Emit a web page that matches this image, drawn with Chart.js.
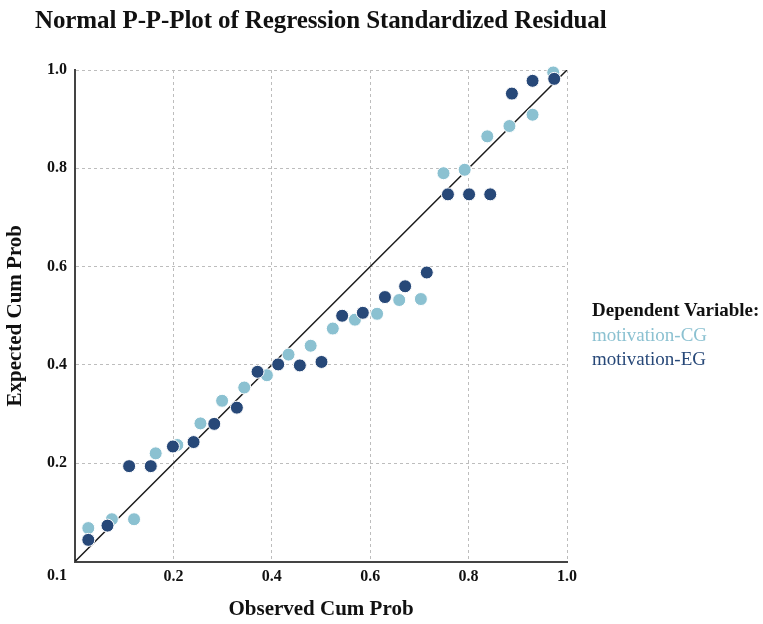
<!DOCTYPE html>
<html>
<head>
<meta charset="utf-8">
<script src="https://cdn.jsdelivr.net/npm/chart.js@4.4.1/dist/chart.umd.min.js"></script>
<style>
  html, body { margin: 0; padding: 0; background: #fff; }
  #wrap { position: relative; width: 763px; height: 624px; }
  #chartTitle {
    position: absolute; left: 35px; top: 6px; margin: 0;
    font: bold 25px "Liberation Serif", serif; color: #111; white-space: nowrap;
    letter-spacing: -0.1px;
  }
  #legend {
    position: absolute; left: 592px; top: 298px;
    font: 19px/24.5px "Liberation Serif", serif; white-space: nowrap;
  }
  #legend .head { font-weight: bold; color: #111; }
</style>
</head>
<body>
<div id="wrap">
  <canvas id="chart" width="763" height="624"></canvas>
  <h1 id="chartTitle">Normal P-P-Plot of Regression Standardized Residual</h1>
  <div id="legend"></div>
</div>
<script>
// observed vs expected cumulative probabilities
const cgObserved = [0.027, 0.075, 0.120, 0.164, 0.208, 0.255, 0.299, 0.344, 0.390, 0.434, 0.479,
  0.524, 0.569, 0.614, 0.659, 0.703, 0.749, 0.792, 0.838, 0.883, 0.930, 0.972];
const cgExpected = [0.068, 0.086, 0.086, 0.220, 0.237, 0.281, 0.327, 0.354, 0.379, 0.421, 0.439,
  0.474, 0.492, 0.504, 0.532, 0.534, 0.790, 0.797, 0.865, 0.886, 0.909, 0.995];
const egObserved = [0.027, 0.066, 0.110, 0.154, 0.199, 0.241, 0.283, 0.329, 0.371, 0.413, 0.457,
  0.501, 0.543, 0.585, 0.630, 0.671, 0.715, 0.758, 0.801, 0.844, 0.888, 0.930, 0.974];
const egExpected = [0.044, 0.073, 0.194, 0.194, 0.234, 0.243, 0.280, 0.313, 0.386, 0.401, 0.399,
  0.406, 0.500, 0.506, 0.538, 0.560, 0.588, 0.747, 0.747, 0.747, 0.952, 0.978, 0.982];
const diagonal = [0, 1];
const tickValues = [0, 0.2, 0.4, 0.6, 0.8, 1.0];
const seriesNames = ['motivation-CG', 'motivation-EG'];
const seriesColors = ['#8bc1d1', '#274878'];
const legendTitle = 'Dependent Variable:';

const toPoints = (xs, ys) => xs.map((x, i) => ({ x, y: ys[i] }));

const serif = '"Liberation Serif", serif';
const tickFont = { family: serif, size: 16, weight: 'bold' };
const axisTitleFont = { family: serif, size: 21, weight: 'bold' };

// corner label that sits under the origin, right-aligned with the y labels
const cornerLabel = {
  id: 'cornerLabel',
  afterDraw(chart) {
    const { ctx, scales } = chart;
    ctx.save();
    ctx.font = `bold 16px ${serif}`;
    ctx.fillStyle = '#111';
    ctx.textAlign = 'right';
    ctx.textBaseline = 'middle';
    ctx.fillText('0.1', scales.y.right - 8, scales.x.top + 14);
    ctx.restore();
  },
};

const axis = (titleText, titlePadding) => ({
  type: 'linear',
  min: 0,
  max: 1,
  afterBuildTicks: (scale) => { scale.ticks = tickValues.map((value) => ({ value })); },
  grid: { color: '#bdbdbd', lineWidth: 1, drawTicks: false },
  border: { display: true, color: '#444', width: 2, dash: [3, 3] },
  ticks: {
    color: '#111',
    font: tickFont,
    callback: (v) => (v === 0 ? '' : v.toFixed(1)),
  },
  title: { display: true, text: titleText, color: '#111', font: axisTitleFont, padding: titlePadding },
});

const xAxis = axis('Observed Cum Prob', { top: 0, bottom: 2 });
xAxis.afterFit = (scale) => { scale.height = 62.5; };
xAxis.ticks.padding = 6;

const yAxis = axis('Expected Cum Prob', { top: 3, bottom: 0 });
yAxis.afterFit = (scale) => { scale.width = 75; };
yAxis.ticks.padding = 8;

new Chart(document.getElementById('chart'), {
  type: 'scatter',
  data: {
    datasets: [
      {
        label: seriesNames[1],
        data: toPoints(egObserved, egExpected),
        backgroundColor: seriesColors[1],
        borderColor: '#ffffff',
        borderWidth: 1,
        pointRadius: 6.5,
        order: 0,
        clip: false,
      },
      {
        label: seriesNames[0],
        data: toPoints(cgObserved, cgExpected),
        backgroundColor: seriesColors[0],
        borderColor: '#ffffff',
        borderWidth: 1,
        pointRadius: 6.5,
        order: 1,
        clip: false,
      },
      {
        type: 'line',
        label: 'reference',
        data: toPoints(diagonal, diagonal),
        borderColor: '#1a1a1a',
        borderWidth: 1.5,
        pointRadius: 0,
        order: 2,
      },
    ],
  },
  options: {
    responsive: false,
    animation: false,
    layout: { padding: { left: 0, right: 196, top: 70, bottom: 0 } },
    plugins: { legend: { display: false }, title: { display: false }, tooltip: { enabled: false } },
    scales: { x: xAxis, y: yAxis },
  },
  plugins: [cornerLabel],
});

document.getElementById('legend').innerHTML =
  `<div class="head">${legendTitle}</div>` +
  seriesNames.map((name, i) => `<div style="color:${seriesColors[i]}">${name}</div>`).join('');
</script>
</body>
</html>
